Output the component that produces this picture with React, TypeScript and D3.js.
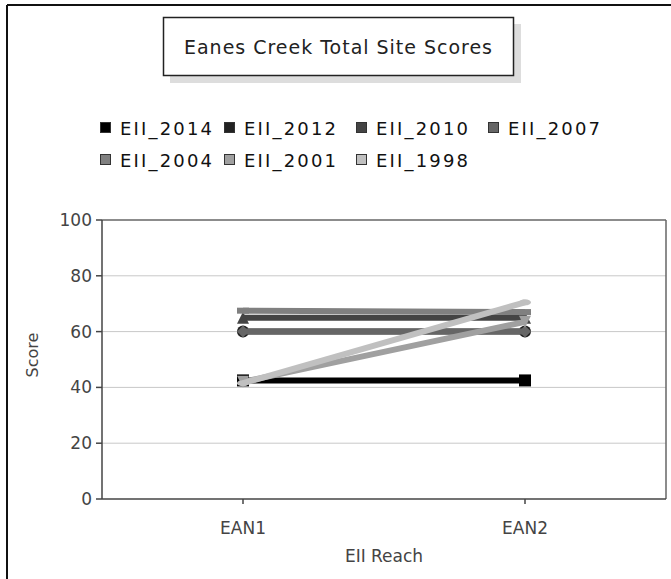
import React from "react";
import * as d3 from "d3";

const categories = ["EAN1", "EAN2"];
const seriesNames = ["EII_2014", "EII_2012", "EII_2010", "EII_2007", "EII_2004", "EII_2001", "EII_1998"];
const seriesColors = ["#000000", "#222222", "#444444", "#666666", "#808080", "#a0a0a0", "#c0c0c0"];
const seriesShapes = ["square", "circle", "triUp", "diamond", "hrect", "triDown", "ellipse"];
const values2014 = [42.5, 42.5];
const values2012 = [60, 60];
const values2010 = [65, 65];
const values2007 = [60, 60];
const values2004 = [67.5, 67];
const values2001 = [42, 63.5];
const values1998 = [41.5, 70.5];
const seriesValues = [values2014, values2012, values2010, values2007, values2004, values2001, values1998];
const yTicks = [0, 20, 40, 60, 80, 100];
const titleText = "Eanes Creek Total Site Scores";
const xTitle = "EII Reach";
const yTitle = "Score";

const FONT = "'DejaVu Sans', sans-serif";

function marker(shape: string, cx: number, cy: number, color: string, key: string) {
  const s = 6;
  switch (shape) {
    case "square":
      return <rect key={key} x={cx - s} y={cy - s} width={2 * s} height={2 * s} fill={color} />;
    case "circle":
      return <circle key={key} cx={cx} cy={cy} r={s} fill={color} />;
    case "triUp":
      return <path key={key} d={`M${cx},${cy - s}L${cx + s},${cy + s}L${cx - s},${cy + s}Z`} fill={color} />;
    case "diamond":
      return <path key={key} d={`M${cx},${cy - s}L${cx + s},${cy}L${cx},${cy + s}L${cx - s},${cy}Z`} fill={color} />;
    case "hrect":
      return <rect key={key} x={cx - s} y={cy - s / 2} width={2 * s} height={s} fill={color} />;
    case "triDown":
      return <path key={key} d={`M${cx - s},${cy - s}L${cx + s},${cy - s}L${cx},${cy + s}Z`} fill={color} />;
    default:
      return <ellipse key={key} cx={cx} cy={cy} rx={s} ry={s / 2} fill={color} />;
  }
}

export default function App() {
  const W = 671;
  const H = 579;
  const left = 102, right = 666, top = 220, bottom = 499;
  const x = d3.scalePoint<string>().domain(categories).range([left, right]).padding(0.5);
  const y = d3.scaleLinear().domain([0, 100]).range([bottom, top]);
  const line = d3
    .line<number>()
    .x((_, i) => x(categories[i]) as number)
    .y((d) => y(d));

  const legendPos = [
    [100, 128], [224, 128], [356, 128], [488, 128],
    [100, 160], [224, 160], [356, 160],
  ];

  return (
    <svg width={W} height={H} style={{ position: "absolute", left: 0, top: 0, background: "#fff" }}>
      <rect x={0} y={0} width={W} height={H} fill="#fff" />
      {/* outer border */}
      <line x1={7} y1={5} x2={W} y2={5} stroke="#111" strokeWidth={2} />
      <line x1={7} y1={5} x2={7} y2={H} stroke="#111" strokeWidth={2} />

      {/* title box */}
      <rect x={170} y={24} width={351} height={59} fill="#dddddd" />
      <rect x={163.5} y={17.5} width={350} height={58} fill="#fff" stroke="#222" strokeWidth={1.5} />
      <text x={338} y={54} textAnchor="middle" fontFamily={FONT} fontSize={19} fill="#222" textLength={308} lengthAdjust="spacing">
        {titleText}
      </text>

      {/* legend */}
      {seriesNames.map((n, i) => (
        <g key={n}>
          <rect x={legendPos[i][0] + 0.5} y={legendPos[i][1] - 5.5} width={10} height={10} fill={seriesColors[i]} stroke="#333" strokeWidth={1} />
          <text x={legendPos[i][0] + 20} y={legendPos[i][1] + 6.5} fontFamily={FONT} fontSize={18} fill="#111" textLength={92} lengthAdjust="spacing">
            {n}
          </text>
        </g>
      ))}

      {/* gridlines */}
      {yTicks.filter((t) => t > 0 && t < 100).map((t) => (
        <line key={t} x1={left} x2={right} y1={y(t)} y2={y(t)} stroke="#c8c8c8" strokeWidth={1} />
      ))}
      {/* plot box */}
      <line x1={left} x2={right} y1={top} y2={top} stroke="#666" strokeWidth={1.5} />
      <line x1={right} x2={right} y1={top} y2={bottom} stroke="#666" strokeWidth={1.5} />
      <line x1={left} x2={left} y1={top} y2={bottom} stroke="#444" strokeWidth={1.5} />
      <line x1={left} x2={right} y1={bottom} y2={bottom} stroke="#444" strokeWidth={1.5} />

      {/* y ticks */}
      {yTicks.map((t) => (
        <g key={t}>
          <line x1={left - 6} x2={left} y1={y(t)} y2={y(t)} stroke="#444" strokeWidth={1.5} />
          <text x={left - 10} y={y(t) + 6} textAnchor="end" fontFamily={FONT} fontSize={17} fill="#444">
            {t}
          </text>
        </g>
      ))}
      <text transform={`translate(38,355) rotate(-90)`} textAnchor="middle" fontFamily={FONT} fontSize={16} fill="#444">
        {yTitle}
      </text>

      {/* x ticks */}
      {categories.map((c) => (
        <g key={c}>
          <line x1={x(c)} x2={x(c)} y1={bottom} y2={bottom + 5} stroke="#444" strokeWidth={1.5} />
          <text x={x(c)} y={534} textAnchor="middle" fontFamily={FONT} fontSize={17} fill="#444">
            {c}
          </text>
        </g>
      ))}
      <text x={(left + right) / 2} y={562} textAnchor="middle" fontFamily={FONT} fontSize={17} fill="#444">
        {xTitle}
      </text>

      {/* series */}
      {seriesValues.map((vals, si) => (
        <g key={seriesNames[si]}>
          <path d={line(vals) || ""} fill="none" stroke={seriesColors[si]} strokeWidth={6} />
          {vals.map((v, i) => marker(seriesShapes[si], x(categories[i]) as number, y(v), seriesColors[si], `${si}-${i}`))}
        </g>
      ))}
    </svg>
  );
}
